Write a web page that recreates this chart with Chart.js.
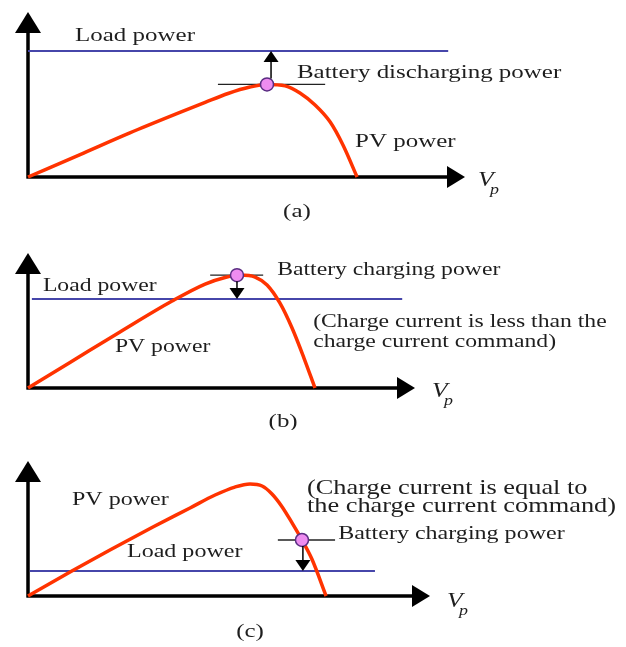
<!DOCTYPE html>
<html>
<head>
<meta charset="utf-8">
<script src="https://cdn.jsdelivr.net/npm/chart.js@4.4.0/dist/chart.umd.min.js"></script>
<style>
  body { margin: 0; background: #fff; }
  #figura { position: relative; width: 626px; height: 647px; }
  #figura canvas { position: absolute; left: 0; }
</style>
</head>
<body>
<div id="figura">
  <canvas id="painel-a" width="626" height="222" style="top:0"></canvas>
  <canvas id="painel-b" width="626" height="208" style="top:222px"></canvas>
  <canvas id="painel-c" width="626" height="217" style="top:430px"></canvas>
</div>
<script>
// Curvas P-V do painel em cada caso (tensão e potência em escala relativa)
const tensaoA = [0, 15.5, 30.3, 45.2, 52.7, 59.5, 66.0, 71.1, 76.5, 80.9, 85.4, 89.9, 93.7, 97.9];
const potenciaA = [0, 13.6, 26.7, 39.1, 45.2, 50.6, 54.5, 56.1, 55.2, 50.9, 43.6, 33.3, 19.4, 0];
const tensaoB = [0, 14.1, 30.9, 48.4, 59.5, 66.2, 71.2, 76.3, 80.3, 84.6, 88.7, 92.7, 96.4];
const potenciaB = [0, 18.9, 41.5, 64.4, 77.0, 81.9, 83.7, 82.2, 76.3, 63.0, 44.4, 22.2, 0];
const tensaoC = [0, 13.6, 26.5, 40.4, 52.4, 60.5, 66.9, 71.8, 75.7, 78.9, 82.2, 85.4, 88.6, 91.8, 96.4];
const potenciaC = [0, 17.8, 34.1, 51.1, 65.2, 74.8, 80.7, 83.0, 81.5, 75.6, 66.0, 54.1, 41.5, 27.4, 0];

// Potência da carga (a), (b), (c) e onde a linha começa/termina
const potenciaCarga = [76.4, 65.9, 18.5];
const cargaInicio = [0, 1.3, 0.6];
const cargaFim = [125, 125.7, 112.2];

// Ponto de operação, reta horizontal por ele e a seta até a carga
const tensaoOperacao = [71.1, 70.2, 88.6];
const potenciaOperacao = [56.1, 83.6, 41.5];
const retaInicio = [56.5, 61.2, 80.8];
const retaFim = [88.4, 79.0, 99.3];
const setaTensao = [72.3, 70.2, 88.9];

const SERIFA = "'Liberation Serif', 'DejaVu Serif', serif";
const ESTICAR = 1.28;

function escreverTexto(ctx, texto, x, y, fonte, alinhamento) {
  ctx.save();
  ctx.translate(x, y);
  ctx.scale(ESTICAR, 1);
  ctx.font = fonte;
  ctx.textAlign = alinhamento || "left";
  ctx.textBaseline = "middle";
  ctx.fillText(texto, 0, 0);
  ctx.restore();
}

// Plugin que desenha os eixos com setas, a seta da bateria e os textos
const eixosESetas = {
  id: "eixosESetas",
  beforeDatasetsDraw(chart) {
    const { ctx, chartArea: a } = chart;
    ctx.save();
    ctx.strokeStyle = "#000";
    ctx.fillStyle = "#000";
    ctx.lineWidth = 3.5;
    ctx.beginPath();
    ctx.moveTo(a.left, a.bottom + 1.5);
    ctx.lineTo(a.left, a.top + 18);
    ctx.moveTo(a.left - 1.5, a.bottom);
    ctx.lineTo(a.right - 16, a.bottom);
    ctx.stroke();
    // ponta do eixo y
    ctx.beginPath();
    ctx.moveTo(a.left, a.top);
    ctx.lineTo(a.left - 13, a.top + 21);
    ctx.lineTo(a.left + 13, a.top + 21);
    ctx.closePath();
    ctx.fill();
    // ponta do eixo x
    ctx.beginPath();
    ctx.moveTo(a.right, a.bottom);
    ctx.lineTo(a.right - 18, a.bottom - 11);
    ctx.lineTo(a.right - 18, a.bottom + 11);
    ctx.closePath();
    ctx.fill();
    ctx.restore();
  },
  afterDatasetsDraw(chart, args, opts) {
    const { ctx, scales } = chart;
    const i = opts.caso;
    const x = scales.x.getPixelForValue(setaTensao[i]);
    const y0 = scales.y.getPixelForValue(potenciaOperacao[i]);
    const y1 = scales.y.getPixelForValue(potenciaCarga[i]);
    const dir = Math.sign(y1 - y0);
    ctx.save();
    ctx.strokeStyle = "#000";
    ctx.fillStyle = "#000";
    ctx.lineWidth = 1.5;
    ctx.beginPath();
    ctx.moveTo(x, y0 + dir * 6);
    ctx.lineTo(x, y1 - dir * 10);
    ctx.stroke();
    ctx.beginPath();
    ctx.moveTo(x, y1);
    ctx.lineTo(x - 7.5, y1 - dir * 11);
    ctx.lineTo(x + 7.5, y1 - dir * 11);
    ctx.closePath();
    ctx.fill();

    ctx.fillStyle = "#1e1e1e";
    opts.textos.forEach((t) => {
      const fonte = (t.tamanho || opts.tamanho) + "px " + SERIFA;
      escreverTexto(ctx, t.texto, scales.x.getPixelForValue(t.x),
        scales.y.getPixelForValue(t.y), fonte, t.alinhamento);
    });
    // rótulo V_p do eixo
    const vx = scales.x.getPixelForValue(opts.vp[0]);
    const vy = scales.y.getPixelForValue(opts.vp[1]);
    escreverTexto(ctx, "V", vx, vy, "italic 20px " + SERIFA, "left");
    escreverTexto(ctx, "p", vx + 12, vy + 9, "italic 14px " + SERIFA, "left");
    ctx.restore();
  },
};

function pares(xs, ys) {
  return xs.map((v, k) => ({ x: v, y: ys[k] }));
}

// Função para criar cada painel
function criarPainel(elementId, caso, tensao, potencia, padding, tamanho, textos, vp) {
  const ctx = document.getElementById(elementId).getContext("2d");
  new Chart(ctx, {
    type: "line",
    data: {
      datasets: [
        {
          label: "Ponto de operação",
          data: [{ x: tensaoOperacao[caso], y: potenciaOperacao[caso] }],
          showLine: false,
          pointRadius: 6.5,
          pointBackgroundColor: "#ee8cf0",
          pointBorderColor: "#5a2d82",
          pointBorderWidth: 1.5,
          clip: false,
        },
        {
          label: "PV power",
          data: pares(tensao, potencia),
          borderColor: "#ff3300",
          borderWidth: 3.5,
          cubicInterpolationMode: "monotone",
          pointRadius: 0,
          clip: false,
        },
        {
          label: "Load power",
          data: [
            { x: cargaInicio[caso], y: potenciaCarga[caso] },
            { x: cargaFim[caso], y: potenciaCarga[caso] },
          ],
          borderColor: "#4646aa",
          borderWidth: 2,
          pointRadius: 0,
          clip: false,
        },
        {
          label: "Reta",
          data: [
            { x: retaInicio[caso], y: potenciaOperacao[caso] },
            { x: retaFim[caso], y: potenciaOperacao[caso] },
          ],
          borderColor: "#222",
          borderWidth: 1.3,
          pointRadius: 0,
          clip: false,
        },
      ],
    },
    options: {
      responsive: false,
      animation: false,
      events: [],
      layout: { padding: padding },
      plugins: {
        legend: { display: false },
        tooltip: { enabled: false },
        eixosESetas: { caso: caso, tamanho: tamanho, textos: textos, vp: vp },
      },
      scales: {
        x: { type: "linear", min: 0, max: 130, display: false },
        y: { type: "linear", min: 0, max: 100, display: false },
      },
    },
    plugins: [eixosESetas],
  });
}

criarPainel("painel-a", 0, tensaoA, potenciaA,
  { left: 28, top: 12, right: 161, bottom: 45 }, 19.5,
  [
    { texto: "Load power", x: 14.0, y: 85.4 },
    { texto: "Battery discharging power", x: 80.0, y: 63.0 },
    { texto: "PV power", x: 97.3, y: 21.2 },
    { texto: "(a)", x: 80.0, y: -21.2, alinhamento: "center" },
  ],
  [133.9, -2.4]);

criarPainel("painel-b", 1, tensaoB, potenciaB,
  { left: 28, top: 31, right: 211, bottom: 42 }, 18.5,
  [
    { texto: "Load power", x: 5.0, y: 75.6 },
    { texto: "Battery charging power", x: 83.7, y: 87.4 },
    { texto: "(Charge current is less than the", x: 95.8, y: 48.9 },
    { texto: "charge current command)", x: 95.8, y: 34.1 },
    { texto: "PV power", x: 29.2, y: 30.4 },
    { texto: "(b)", x: 85.7, y: -25.2, alinhamento: "center", tamanho: 19.5 },
  ],
  [135.7, -3.0]);

criarPainel("painel-c", 2, tensaoC, potenciaC,
  { left: 28, top: 31, right: 196, bottom: 51 }, 18.8,
  [
    { texto: "PV power", x: 14.2, y: 71.1 },
    { texto: "Load power", x: 32.0, y: 32.6 },
    { texto: "(Charge current is equal to", x: 90.2, y: 79.3, tamanho: 20.6 },
    { texto: "the charge current command)", x: 90.2, y: 65.9, tamanho: 20.6 },
    { texto: "Battery charging power", x: 100.3, y: 45.9 },
    { texto: "(c)", x: 71.8, y: -26.7, alinhamento: "center", tamanho: 19.5 },
  ],
  [135.5, -4.4]);
</script>
</body>
</html>
